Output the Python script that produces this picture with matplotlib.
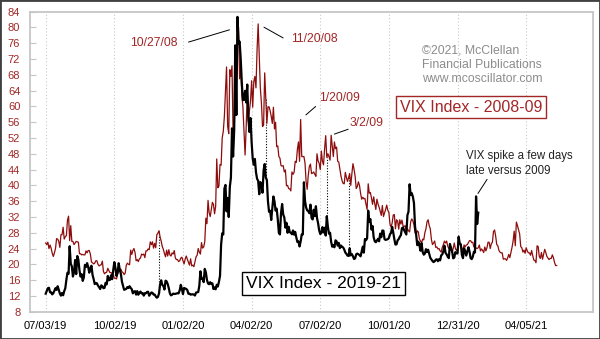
import numpy as np
import matplotlib
matplotlib.use("Agg")
import matplotlib.pyplot as plt
from matplotlib.patches import Rectangle

plt.rcParams['font.family'] = ['Liberation Sans', 'DejaVu Sans']

RED = '#8e0c0c'
RED_TXT = '#a32626'
FRAME = '#c6c6c6'

# NYSE holidays, the x axis counts trading sessions
hol_19 = ['2019-07-04', '2019-09-02', '2019-11-28', '2019-12-25', '2020-01-01',
          '2020-01-20', '2020-02-17', '2020-04-10', '2020-05-25', '2020-07-03',
          '2020-09-07', '2020-11-26', '2020-12-25', '2021-01-01', '2021-01-18',
          '2021-02-15', '2021-04-02', '2021-05-31', '2021-07-05']
hol_08 = ['2008-02-18', '2008-03-21', '2008-05-26', '2008-07-04', '2008-09-01',
          '2008-11-27', '2008-12-25', '2009-01-01', '2009-01-19', '2009-02-16',
          '2009-04-10', '2009-05-25', '2009-07-03', '2009-09-07', '2009-11-26',
          '2009-12-25']

start_19 = '2019-07-03'
anchor_19 = '2020-03-17'   # 2008-09 series is lined up so that 10/27/08 falls here
anchor_08 = '2008-10-27'

black_dates = [
    '2019-07-03', '2019-07-05', '2019-07-08', '2019-07-09', '2019-07-10', '2019-07-11', '2019-07-12', '2019-07-15', '2019-07-16', '2019-07-17', '2019-07-18', '2019-07-19', '2019-07-22', '2019-07-23', '2019-07-24', '2019-07-25', '2019-07-26', '2019-07-29', '2019-07-30', '2019-07-31',
    '2019-08-01', '2019-08-02', '2019-08-05', '2019-08-06', '2019-08-07', '2019-08-08', '2019-08-09', '2019-08-12', '2019-08-13', '2019-08-14', '2019-08-15', '2019-08-16', '2019-08-19', '2019-08-20', '2019-08-21', '2019-08-22', '2019-08-23', '2019-08-26', '2019-08-27', '2019-08-28', '2019-08-29', '2019-08-30',
    '2019-09-03', '2019-09-04', '2019-09-05', '2019-09-06', '2019-09-09', '2019-09-10', '2019-09-11', '2019-09-12', '2019-09-13', '2019-09-16', '2019-09-17', '2019-09-18', '2019-09-19', '2019-09-20', '2019-09-23', '2019-09-24', '2019-09-25', '2019-09-26', '2019-09-27', '2019-09-30',
    '2019-10-01', '2019-10-02', '2019-10-03', '2019-10-04', '2019-10-07', '2019-10-08', '2019-10-09', '2019-10-10', '2019-10-11', '2019-10-14', '2019-10-15', '2019-10-16', '2019-10-17', '2019-10-18', '2019-10-21', '2019-10-22', '2019-10-23', '2019-10-24', '2019-10-25', '2019-10-28', '2019-10-29', '2019-10-30', '2019-10-31',
    '2019-11-01', '2019-11-04', '2019-11-05', '2019-11-06', '2019-11-07', '2019-11-08', '2019-11-11', '2019-11-12', '2019-11-13', '2019-11-14', '2019-11-15', '2019-11-18', '2019-11-19', '2019-11-20', '2019-11-21', '2019-11-22', '2019-11-25', '2019-11-26', '2019-11-27', '2019-11-29',
    '2019-12-02', '2019-12-03', '2019-12-04', '2019-12-05', '2019-12-06', '2019-12-09', '2019-12-10', '2019-12-11', '2019-12-12', '2019-12-13', '2019-12-16', '2019-12-17', '2019-12-18', '2019-12-19', '2019-12-20', '2019-12-23', '2019-12-24', '2019-12-26', '2019-12-27', '2019-12-30', '2019-12-31',
    '2020-01-02', '2020-01-03', '2020-01-06', '2020-01-07', '2020-01-08', '2020-01-09', '2020-01-10', '2020-01-13', '2020-01-14', '2020-01-15', '2020-01-16', '2020-01-17', '2020-01-21', '2020-01-22', '2020-01-23', '2020-01-24', '2020-01-27', '2020-01-28', '2020-01-29', '2020-01-30', '2020-01-31',
    '2020-02-03', '2020-02-04', '2020-02-05', '2020-02-06', '2020-02-07', '2020-02-10', '2020-02-11', '2020-02-12', '2020-02-13', '2020-02-14', '2020-02-18', '2020-02-19', '2020-02-20', '2020-02-21', '2020-02-24', '2020-02-25', '2020-02-26', '2020-02-27', '2020-02-28',
    '2020-03-02', '2020-03-03', '2020-03-04', '2020-03-05', '2020-03-06', '2020-03-09', '2020-03-10', '2020-03-11', '2020-03-12', '2020-03-13', '2020-03-16', '2020-03-17', '2020-03-18', '2020-03-19', '2020-03-20', '2020-03-23', '2020-03-24', '2020-03-25', '2020-03-26', '2020-03-27', '2020-03-30', '2020-03-31',
    '2020-04-01', '2020-04-02', '2020-04-03', '2020-04-06', '2020-04-07', '2020-04-08', '2020-04-09', '2020-04-13', '2020-04-14', '2020-04-15', '2020-04-16', '2020-04-17', '2020-04-20', '2020-04-21', '2020-04-22', '2020-04-23', '2020-04-24', '2020-04-27', '2020-04-28', '2020-04-29', '2020-04-30',
    '2020-05-01', '2020-05-04', '2020-05-05', '2020-05-06', '2020-05-07', '2020-05-08', '2020-05-11', '2020-05-12', '2020-05-13', '2020-05-14', '2020-05-15', '2020-05-18', '2020-05-19', '2020-05-20', '2020-05-21', '2020-05-22', '2020-05-26', '2020-05-27', '2020-05-28', '2020-05-29',
    '2020-06-01', '2020-06-02', '2020-06-03', '2020-06-04', '2020-06-05', '2020-06-08', '2020-06-09', '2020-06-10', '2020-06-11', '2020-06-12', '2020-06-15', '2020-06-16', '2020-06-17', '2020-06-18', '2020-06-19', '2020-06-22', '2020-06-23', '2020-06-24', '2020-06-25', '2020-06-26', '2020-06-29', '2020-06-30',
    '2020-07-01', '2020-07-02', '2020-07-06', '2020-07-07', '2020-07-08', '2020-07-09', '2020-07-10', '2020-07-13', '2020-07-14', '2020-07-15', '2020-07-16', '2020-07-17', '2020-07-20', '2020-07-21', '2020-07-22', '2020-07-23', '2020-07-24', '2020-07-27', '2020-07-28', '2020-07-29', '2020-07-30', '2020-07-31',
    '2020-08-03', '2020-08-04', '2020-08-05', '2020-08-06', '2020-08-07', '2020-08-10', '2020-08-11', '2020-08-12', '2020-08-13', '2020-08-14', '2020-08-17', '2020-08-18', '2020-08-19', '2020-08-20', '2020-08-21', '2020-08-24', '2020-08-25', '2020-08-26', '2020-08-27', '2020-08-28', '2020-08-31',
    '2020-09-01', '2020-09-02', '2020-09-03', '2020-09-04', '2020-09-08', '2020-09-09', '2020-09-10', '2020-09-11', '2020-09-14', '2020-09-15', '2020-09-16', '2020-09-17', '2020-09-18', '2020-09-21', '2020-09-22', '2020-09-23', '2020-09-24', '2020-09-25', '2020-09-28', '2020-09-29', '2020-09-30',
    '2020-10-01', '2020-10-02', '2020-10-05', '2020-10-06', '2020-10-07', '2020-10-08', '2020-10-09', '2020-10-12', '2020-10-13', '2020-10-14', '2020-10-15', '2020-10-16', '2020-10-19', '2020-10-20', '2020-10-21', '2020-10-22', '2020-10-23', '2020-10-26', '2020-10-27', '2020-10-28', '2020-10-29', '2020-10-30',
    '2020-11-02', '2020-11-03', '2020-11-04', '2020-11-05', '2020-11-06', '2020-11-09', '2020-11-10', '2020-11-11', '2020-11-12', '2020-11-13', '2020-11-16', '2020-11-17', '2020-11-18', '2020-11-19', '2020-11-20', '2020-11-23', '2020-11-24', '2020-11-25', '2020-11-27', '2020-11-30',
    '2020-12-01', '2020-12-02', '2020-12-03', '2020-12-04', '2020-12-07', '2020-12-08', '2020-12-09', '2020-12-10', '2020-12-11', '2020-12-14', '2020-12-15', '2020-12-16', '2020-12-17', '2020-12-18', '2020-12-21', '2020-12-22', '2020-12-23', '2020-12-24', '2020-12-28', '2020-12-29', '2020-12-30', '2020-12-31',
    '2021-01-04', '2021-01-05', '2021-01-06', '2021-01-07', '2021-01-08', '2021-01-11', '2021-01-12', '2021-01-13', '2021-01-14', '2021-01-15', '2021-01-19', '2021-01-20', '2021-01-21', '2021-01-22', '2021-01-25', '2021-01-26', '2021-01-27', '2021-01-28', '2021-01-29',
]
black_vix = [
    12.57, 13.28, 13.96, 14.06, 12.93, 12.93, 12.39, 12.68, 13.35, 13.97, 13.53, 14.45, 13.53, 12.61, 12.07, 12.74, 12.16, 13.21, 13.94, 16.12,
    17.87, 17.61, 24.59, 20.17, 19.49, 16.91, 17.97, 21.09, 17.52, 22.10, 21.18, 18.47, 16.88, 17.50, 15.80, 16.68, 19.87, 19.32, 20.31, 19.35, 17.88, 18.98,
    19.66, 17.33, 16.27, 15.00, 15.27, 15.20, 14.61, 14.22, 13.74, 14.67, 14.44, 13.95, 14.05, 15.32, 14.91, 17.05, 15.96, 16.07, 17.22, 16.24,
    18.56, 20.56, 19.12, 17.04, 17.86, 20.28, 18.64, 17.57, 15.58, 14.57, 13.54, 13.68, 13.79, 14.25, 14.00, 14.46, 14.01, 13.71, 12.65, 13.11, 13.20, 12.33, 13.22,
    12.30, 12.83, 13.10, 12.62, 12.73, 12.07, 12.69, 12.68, 13.00, 13.05, 12.05, 12.46, 12.86, 12.78, 12.34, 12.34, 11.87, 11.54, 11.75, 12.62,
    14.91, 15.96, 14.80, 14.52, 13.62, 15.86, 15.68, 14.99, 13.94, 12.63, 12.14, 12.29, 12.58, 12.50, 12.51, 12.61, 12.67, 12.65, 13.43, 14.82, 13.78,
    12.47, 14.02, 13.85, 13.79, 13.45, 12.54, 12.56, 12.32, 12.39, 12.42, 12.32, 12.10, 12.85, 12.91, 12.98, 14.56, 18.23, 16.28, 16.39, 15.49, 18.84,
    17.97, 16.05, 15.15, 14.96, 15.47, 15.04, 15.18, 13.74, 14.15, 13.68, 14.83, 14.38, 15.56, 17.08, 25.03, 27.85, 27.56, 39.16, 40.11,
    33.42, 36.82, 31.99, 39.62, 41.94, 54.46, 47.30, 53.90, 75.47, 57.83, 82.69, 75.91, 76.45, 72.00, 66.04, 61.59, 61.67, 63.95, 61.00, 65.54, 57.08, 53.54,
    57.06, 50.91, 46.80, 45.24, 46.70, 43.35, 41.67, 41.17, 37.76, 40.84, 40.11, 38.15, 43.83, 45.41, 41.98, 41.38, 35.93, 33.29, 33.57, 31.23, 34.15,
    37.19, 35.97, 33.61, 34.12, 31.44, 27.98, 27.57, 33.04, 35.28, 32.61, 31.89, 29.30, 30.53, 27.99, 29.53, 28.16, 28.01, 27.62, 28.59, 27.51,
    28.23, 26.84, 25.66, 25.81, 24.52, 25.81, 27.57, 27.57, 40.79, 36.09, 34.40, 33.67, 33.47, 32.94, 35.12, 31.77, 31.37, 33.84, 32.22, 34.73, 31.78, 30.43,
    28.62, 27.68, 27.94, 29.43, 28.08, 29.26, 27.29, 32.19, 29.52, 27.76, 28.00, 25.68, 24.46, 24.84, 24.32, 26.08, 25.84, 24.74, 25.44, 24.10, 24.76, 24.46,
    24.28, 23.76, 22.99, 22.65, 22.21, 22.13, 24.03, 22.28, 22.59, 22.05, 21.35, 21.51, 22.54, 22.72, 22.54, 22.37, 22.03, 23.27, 24.47, 22.96, 26.41,
    26.12, 26.57, 33.60, 30.75, 31.46, 28.81, 29.71, 26.87, 25.85, 25.59, 26.04, 26.46, 25.83, 27.78, 26.86, 28.58, 28.51, 26.38, 26.19, 26.27, 26.37,
    26.70, 27.63, 27.96, 29.48, 28.06, 26.36, 25.00, 25.07, 26.07, 26.40, 26.97, 27.41, 29.18, 29.35, 28.65, 28.11, 27.55, 32.46, 33.35, 40.28, 37.59, 38.02,
    37.13, 35.55, 29.57, 27.58, 24.86, 25.75, 24.80, 23.45, 25.35, 23.10, 22.45, 22.71, 23.84, 23.11, 23.70, 22.66, 21.64, 21.25, 20.84, 20.57,
    20.77, 21.17, 21.28, 20.79, 21.30, 21.00, 22.27, 22.52, 23.31, 24.72, 22.89, 22.50, 21.93, 21.57, 25.16, 24.23, 23.31, 21.53, 21.70, 23.08, 22.77, 22.75,
    26.97, 25.34, 25.07, 22.37, 21.56, 24.08, 23.33, 22.21, 23.25, 24.34, 23.24, 21.58, 21.32, 21.91, 23.19, 23.02, 37.21, 30.21, 33.09,
]

red_dates = [
    '2008-02-14', '2008-02-15', '2008-02-19', '2008-02-20', '2008-02-21', '2008-02-22', '2008-02-25', '2008-02-26', '2008-02-27', '2008-02-28', '2008-02-29',
    '2008-03-03', '2008-03-04', '2008-03-05', '2008-03-06', '2008-03-07', '2008-03-10', '2008-03-11', '2008-03-12', '2008-03-13', '2008-03-14', '2008-03-17', '2008-03-18', '2008-03-19', '2008-03-20', '2008-03-24', '2008-03-25', '2008-03-26', '2008-03-27', '2008-03-28', '2008-03-31',
    '2008-04-01', '2008-04-02', '2008-04-03', '2008-04-04', '2008-04-07', '2008-04-08', '2008-04-09', '2008-04-10', '2008-04-11', '2008-04-14', '2008-04-15', '2008-04-16', '2008-04-17', '2008-04-18', '2008-04-21', '2008-04-22', '2008-04-23', '2008-04-24', '2008-04-25', '2008-04-28', '2008-04-29', '2008-04-30',
    '2008-05-01', '2008-05-02', '2008-05-05', '2008-05-06', '2008-05-07', '2008-05-08', '2008-05-09', '2008-05-12', '2008-05-13', '2008-05-14', '2008-05-15', '2008-05-16', '2008-05-19', '2008-05-20', '2008-05-21', '2008-05-22', '2008-05-23', '2008-05-27', '2008-05-28', '2008-05-29', '2008-05-30',
    '2008-06-02', '2008-06-03', '2008-06-04', '2008-06-05', '2008-06-06', '2008-06-09', '2008-06-10', '2008-06-11', '2008-06-12', '2008-06-13', '2008-06-16', '2008-06-17', '2008-06-18', '2008-06-19', '2008-06-20', '2008-06-23', '2008-06-24', '2008-06-25', '2008-06-26', '2008-06-27', '2008-06-30',
    '2008-07-01', '2008-07-02', '2008-07-03', '2008-07-07', '2008-07-08', '2008-07-09', '2008-07-10', '2008-07-11', '2008-07-14', '2008-07-15', '2008-07-16', '2008-07-17', '2008-07-18', '2008-07-21', '2008-07-22', '2008-07-23', '2008-07-24', '2008-07-25', '2008-07-28', '2008-07-29', '2008-07-30', '2008-07-31',
    '2008-08-01', '2008-08-04', '2008-08-05', '2008-08-06', '2008-08-07', '2008-08-08', '2008-08-11', '2008-08-12', '2008-08-13', '2008-08-14', '2008-08-15', '2008-08-18', '2008-08-19', '2008-08-20', '2008-08-21', '2008-08-22', '2008-08-25', '2008-08-26', '2008-08-27', '2008-08-28', '2008-08-29',
    '2008-09-02', '2008-09-03', '2008-09-04', '2008-09-05', '2008-09-08', '2008-09-09', '2008-09-10', '2008-09-11', '2008-09-12', '2008-09-15', '2008-09-16', '2008-09-17', '2008-09-18', '2008-09-19', '2008-09-22', '2008-09-23', '2008-09-24', '2008-09-25', '2008-09-26', '2008-09-29', '2008-09-30',
    '2008-10-01', '2008-10-02', '2008-10-03', '2008-10-06', '2008-10-07', '2008-10-08', '2008-10-09', '2008-10-10', '2008-10-13', '2008-10-14', '2008-10-15', '2008-10-16', '2008-10-17', '2008-10-20', '2008-10-21', '2008-10-22', '2008-10-23', '2008-10-24', '2008-10-27', '2008-10-28', '2008-10-29', '2008-10-30', '2008-10-31',
    '2008-11-03', '2008-11-04', '2008-11-05', '2008-11-06', '2008-11-07', '2008-11-10', '2008-11-11', '2008-11-12', '2008-11-13', '2008-11-14', '2008-11-17', '2008-11-18', '2008-11-19', '2008-11-20', '2008-11-21', '2008-11-24', '2008-11-25', '2008-11-26', '2008-11-28',
    '2008-12-01', '2008-12-02', '2008-12-03', '2008-12-04', '2008-12-05', '2008-12-08', '2008-12-09', '2008-12-10', '2008-12-11', '2008-12-12', '2008-12-15', '2008-12-16', '2008-12-17', '2008-12-18', '2008-12-19', '2008-12-22', '2008-12-23', '2008-12-24', '2008-12-26', '2008-12-29', '2008-12-30', '2008-12-31',
    '2009-01-02', '2009-01-05', '2009-01-06', '2009-01-07', '2009-01-08', '2009-01-09', '2009-01-12', '2009-01-13', '2009-01-14', '2009-01-15', '2009-01-16', '2009-01-20', '2009-01-21', '2009-01-22', '2009-01-23', '2009-01-26', '2009-01-27', '2009-01-28', '2009-01-29', '2009-01-30',
    '2009-02-02', '2009-02-03', '2009-02-04', '2009-02-05', '2009-02-06', '2009-02-09', '2009-02-10', '2009-02-11', '2009-02-12', '2009-02-13', '2009-02-17', '2009-02-18', '2009-02-19', '2009-02-20', '2009-02-23', '2009-02-24', '2009-02-25', '2009-02-26', '2009-02-27',
    '2009-03-02', '2009-03-03', '2009-03-04', '2009-03-05', '2009-03-06', '2009-03-09', '2009-03-10', '2009-03-11', '2009-03-12', '2009-03-13', '2009-03-16', '2009-03-17', '2009-03-18', '2009-03-19', '2009-03-20', '2009-03-23', '2009-03-24', '2009-03-25', '2009-03-26', '2009-03-27', '2009-03-30', '2009-03-31',
    '2009-04-01', '2009-04-02', '2009-04-03', '2009-04-06', '2009-04-07', '2009-04-08', '2009-04-09', '2009-04-13', '2009-04-14', '2009-04-15', '2009-04-16', '2009-04-17', '2009-04-20', '2009-04-21', '2009-04-22', '2009-04-23', '2009-04-24', '2009-04-27', '2009-04-28', '2009-04-29', '2009-04-30',
    '2009-05-01', '2009-05-04', '2009-05-05', '2009-05-06', '2009-05-07', '2009-05-08', '2009-05-11', '2009-05-12', '2009-05-13', '2009-05-14', '2009-05-15', '2009-05-18', '2009-05-19', '2009-05-20', '2009-05-21', '2009-05-22', '2009-05-26', '2009-05-27', '2009-05-28', '2009-05-29',
    '2009-06-01', '2009-06-02', '2009-06-03', '2009-06-04', '2009-06-05', '2009-06-08', '2009-06-09', '2009-06-10', '2009-06-11', '2009-06-12', '2009-06-15', '2009-06-16', '2009-06-17', '2009-06-18', '2009-06-19', '2009-06-22', '2009-06-23', '2009-06-24', '2009-06-25', '2009-06-26', '2009-06-29', '2009-06-30',
    '2009-07-01', '2009-07-02', '2009-07-06', '2009-07-07', '2009-07-08', '2009-07-09', '2009-07-10', '2009-07-13', '2009-07-14', '2009-07-15', '2009-07-16', '2009-07-17', '2009-07-20', '2009-07-21', '2009-07-22', '2009-07-23', '2009-07-24', '2009-07-27', '2009-07-28', '2009-07-29', '2009-07-30', '2009-07-31',
    '2009-08-03', '2009-08-04', '2009-08-05', '2009-08-06', '2009-08-07', '2009-08-10', '2009-08-11', '2009-08-12', '2009-08-13', '2009-08-14', '2009-08-17', '2009-08-18', '2009-08-19', '2009-08-20', '2009-08-21', '2009-08-24', '2009-08-25', '2009-08-26', '2009-08-27', '2009-08-28', '2009-08-31',
    '2009-09-01', '2009-09-02', '2009-09-03', '2009-09-04', '2009-09-08', '2009-09-09', '2009-09-10', '2009-09-11', '2009-09-14', '2009-09-15', '2009-09-16', '2009-09-17', '2009-09-18', '2009-09-21', '2009-09-22', '2009-09-23', '2009-09-24', '2009-09-25', '2009-09-28', '2009-09-29', '2009-09-30',
    '2009-10-01', '2009-10-02', '2009-10-05', '2009-10-06', '2009-10-07', '2009-10-08', '2009-10-09', '2009-10-12', '2009-10-13', '2009-10-14', '2009-10-15', '2009-10-16', '2009-10-19', '2009-10-20', '2009-10-21', '2009-10-22', '2009-10-23', '2009-10-26', '2009-10-27', '2009-10-28', '2009-10-29', '2009-10-30',
    '2009-11-02', '2009-11-03', '2009-11-04', '2009-11-05', '2009-11-06', '2009-11-09', '2009-11-10', '2009-11-11', '2009-11-12', '2009-11-13', '2009-11-16', '2009-11-17', '2009-11-18', '2009-11-19', '2009-11-20', '2009-11-23', '2009-11-24', '2009-11-25', '2009-11-27', '2009-11-30',
    '2009-12-01', '2009-12-02', '2009-12-03', '2009-12-04', '2009-12-07', '2009-12-08', '2009-12-09', '2009-12-10', '2009-12-11', '2009-12-14', '2009-12-15', '2009-12-16', '2009-12-17', '2009-12-18', '2009-12-21', '2009-12-22', '2009-12-23',
]
red_vix = [
    25.4, 25.0, 25.6, 24.0, 24.9, 24.1, 22.8, 22.0, 22.9, 24.0, 26.5,
    26.4, 25.8, 24.3, 27.5, 27.5, 29.4, 26.4, 27.0, 27.3, 31.2, 32.2, 26.0, 29.8, 25.8, 25.8, 25.0, 25.4, 25.8, 25.7, 25.6,
    22.7, 22.7, 22.4, 22.5, 22.4, 22.4, 23.4, 22.9, 23.5, 23.5, 22.6, 20.6, 20.4, 20.1, 20.3, 20.9, 20.9, 20.0, 19.6, 19.8, 19.9, 20.8,
    18.2, 17.6, 17.9, 18.0, 19.0, 18.4, 17.9, 17.9, 17.6, 17.3, 16.5, 16.5, 16.3, 17.6, 18.4, 18.2, 18.8, 18.1, 17.9, 17.4, 17.8,
    19.8, 20.3, 20.0, 19.9, 23.6, 22.5, 23.5, 24.0, 23.0, 20.9, 21.2, 20.7, 21.4, 21.6, 22.6, 22.4, 22.6, 21.7, 23.4, 23.4, 23.9,
    23.7, 25.7, 25.0, 25.7, 24.1, 25.3, 24.2, 27.5, 27.9, 28.5, 26.9, 25.9, 24.5, 23.8, 22.7, 21.9, 23.6, 22.1, 23.7, 22.4, 22.1, 22.9,
    22.6, 23.5, 21.6, 21.2, 21.2, 20.7, 20.9, 21.6, 21.8, 20.9, 20.1, 21.3, 22.1, 21.3, 20.5, 19.8, 21.4, 19.6, 19.8, 19.4, 20.7,
    21.9, 22.3, 24.0, 23.1, 22.6, 25.5, 24.1, 24.4, 25.7, 31.7, 30.3, 36.2, 33.1, 32.1, 33.9, 35.7, 35.2, 32.8, 34.7, 46.7, 39.4,
    39.8, 45.3, 45.1, 52.0, 53.7, 57.5, 63.9, 70.0, 55.0, 53.1, 69.3, 67.6, 70.3, 53.0, 53.1, 69.7, 67.8, 79.1, 80.1, 67.0, 70.0, 62.9, 59.9,
    53.7, 47.7, 54.6, 63.7, 56.1, 58.9, 61.4, 66.5, 59.8, 66.3, 67.6, 64.7, 74.3, 80.9, 72.7, 64.7, 60.9, 54.9, 55.3,
    68.5, 62.1, 55.7, 59.9, 59.9, 58.9, 57.5, 55.7, 59.8, 54.3, 56.0, 49.8, 50.0, 47.3, 46.9, 45.0, 44.9, 45.0, 43.4, 43.9, 39.9, 40.0,
    39.2, 39.1, 38.6, 43.4, 42.8, 43.3, 46.1, 45.8, 49.1, 51.0, 46.1, 56.7, 47.3, 47.3, 47.3, 45.7, 41.0, 39.0, 42.6, 44.8,
    45.4, 43.0, 43.1, 43.4, 42.8, 42.3, 48.0, 46.2, 45.6, 44.0, 48.7, 46.1, 45.2, 49.3, 52.6, 47.1, 48.0, 47.3, 46.4,
    52.7, 49.9, 47.3, 51.0, 49.3, 49.7, 46.1, 45.9, 44.1, 42.4, 41.2, 40.5, 40.4, 43.3, 42.0, 41.0, 42.0, 43.0, 40.0, 42.9, 45.5, 44.1,
    42.3, 39.2, 39.7, 40.9, 40.0, 38.0, 36.5, 37.0, 36.6, 36.7, 35.2, 33.9, 40.4, 38.0, 38.2, 36.8, 35.2, 37.1, 35.4, 33.9, 36.5,
    35.3, 34.5, 33.4, 32.4, 34.9, 32.1, 33.0, 33.9, 35.0, 33.7, 33.1, 30.2, 29.4, 30.5, 32.5, 32.6, 29.0, 31.3, 31.0, 28.9,
    31.3, 30.2, 31.2, 29.7, 29.6, 29.8, 28.3, 29.0, 28.5, 28.2, 30.8, 31.5, 31.0, 30.0, 28.0, 27.5, 28.5, 28.2, 26.4, 25.9, 25.4, 26.4,
    26.2, 28.0, 29.0, 30.8, 31.3, 29.8, 29.0, 26.3, 25.0, 25.4, 25.9, 24.3, 24.4, 23.9, 24.0, 23.4, 23.1, 24.3, 25.0, 25.9, 25.4, 25.9,
    24.6, 24.0, 24.5, 23.5, 23.0, 24.0, 25.4, 24.0, 23.5, 24.0, 27.2, 25.0, 25.0, 24.0, 23.6, 24.9, 24.4, 24.9, 25.0, 25.5, 26.0,
    26.0, 25.5, 25.6, 24.4, 24.5, 24.1, 24.0, 24.2, 24.9, 23.4, 23.9, 23.5, 23.0, 24.4, 23.4, 24.2, 25.6, 25.6, 24.0, 25.2, 25.6,
    28.3, 28.7, 27.1, 25.0, 24.7, 23.5, 23.1, 22.9, 22.9, 21.3, 21.4, 21.4, 21.0, 21.6, 22.5, 21.7, 23.0, 24.3, 25.9, 28.4, 24.7, 30.7,
    29.8, 28.8, 27.7, 24.5, 24.2, 23.1, 23.6, 22.8, 24.2, 23.4, 22.9, 22.9, 22.3, 23.5, 22.2, 21.1, 21.0, 20.4, 24.7, 24.5,
    22.0, 21.5, 23.0, 21.3, 22.6, 23.8, 23.0, 22.0, 21.6, 21.2, 21.5, 21.5, 22.4, 21.7, 20.5, 19.7, 19.7,
]

tick_dates = ['2019-07-03', '2019-10-02', '2020-01-02', '2020-04-02',
              '2020-07-02', '2020-10-01', '2020-12-31', '2021-04-05']
y_ticks = list(range(8, 85, 4))

# red dates that get a dotted drop line down to the black series
link_dates = ['2008-07-15', '2008-12-02', '2009-02-24', '2009-03-24']

assert len(black_dates) == len(black_vix)
assert len(red_dates) == len(red_vix)


def pos19(d):
    d = np.array(d, dtype='datetime64[D]')
    return np.busday_count(np.datetime64(start_19), d, holidays=hol_19)


def pos08(d):
    d = np.array(d, dtype='datetime64[D]')
    base = pos19([anchor_19])[0]
    return base + np.busday_count(np.datetime64(anchor_08), d, holidays=hol_08)


xb = pos19(black_dates)
xr = pos08(red_dates)
yb = np.array(black_vix)
yr = np.array(red_vix)

fig = plt.figure(figsize=(6.0, 3.39), dpi=100)
ax = fig.add_axes([30 / 600, 1 - 311.7 / 339, 563.3 / 600, 300 / 339])

ax.plot(xr, yr, color=RED, lw=0.9, zorder=3)
ax.plot(xb, yb, color='black', lw=1.6, zorder=4)

# dotted links
xl = pos08(link_dates)
ax.vlines(xl, np.interp(xl, xb, yb), np.interp(xl, xr, yr),
          colors='black', linestyles=(0, (1, 1.5)), lw=0.8, zorder=2)

ax.set_xlim(-14.4, 502.6)
ax.set_ylim(8, 84)
xt = pos19(tick_dates)
ax.set_xticks(xt)
ax.set_xticklabels([np.datetime64(d, 'D').item().strftime('%m/%d/%y') for d in tick_dates])
ax.set_yticks(y_ticks)
ax.grid(axis='x', color='#c8c8c8', linestyle=(0, (1, 2)), lw=0.8)
ax.tick_params(axis='x', length=0, pad=7, labelsize=8, labelcolor='black')
ax.tick_params(axis='y', direction='in', length=4.5, width=0.8, color=FRAME,
               pad=7, labelsize=8, labelcolor=RED_TXT)
for s in ax.spines.values():
    s.set_color(FRAME)
    s.set_linewidth(1.3)

# peak labels
pk = [('10/27/08', xr, yr, '2008-10-27', (-50, -15), (-61, -16), 'right', 6.8),
      ('11/20/08', xr, yr, '2008-11-20', (25, -14), (33, -15), 'left', 4.8),
      ('1/20/09', xr, yr, '2009-01-20', (15, 13), (18, 21), 'left', 5.0),
      ('3/2/09', xr, yr, '2009-03-02', (17, 6), (18, 12), 'left', 2.5)]
for lab, xs, ys, d, lstart, toff, ha, gap in pk:
    x0 = pos08([d])[0]
    y0 = float(np.interp(x0, xs, ys))
    ax.annotate('', xy=(x0, y0), xytext=lstart, textcoords='offset pixels',
                arrowprops=dict(arrowstyle='-', color='black', lw=0.7,
                                shrinkA=0, shrinkB=gap))
    ax.annotate(lab, xy=(x0, y0), xytext=toff, textcoords='offset pixels',
                ha=ha, va='center', fontsize=8.7, color=RED_TXT)

xs0 = pos19(['2021-01-27'])[0]
ys0 = float(np.interp(xs0, xb, yb))
ax.annotate('', xy=(xs0, ys0), xytext=(11, 17), textcoords='offset pixels',
            arrowprops=dict(arrowstyle='-', color='black', lw=0.7, shrinkA=0, shrinkB=2.5))
ax.annotate('VIX spike a few days\nlate versus 2009', xy=(xs0, ys0), xytext=(-10, 33),
            textcoords='offset pixels', ha='left', va='center', fontsize=8.3,
            color='#222222', linespacing=1.25)

fig.text(421.7 / 600, 1 - 65 / 339, '©2021, McClellan\nFinancial Publications\nwww.mcoscillator.com',
         ha='left', va='center', fontsize=8.8, color='#8c8c8c', linespacing=1.25)

fig.text(471 / 600, 1 - 107 / 339, 'VIX Index - 2008-09', ha='center', va='center',
         fontsize=11.5, color=RED_TXT,
         bbox=dict(boxstyle='square,pad=0.22', fc='white', ec=RED_TXT, lw=1))
fig.text(323.7 / 600, 1 - 283.8 / 339, 'VIX Index - 2019-21', ha='center', va='center',
         fontsize=12.5, color='black',
         bbox=dict(boxstyle='square,pad=0.22', fc='white', ec='black', lw=1))

fig.patches.append(Rectangle((0, 0), 1, 1, transform=fig.transFigure, fill=False,
                             edgecolor='#404040', lw=2))

fig.savefig('out.png', dpi=100)
